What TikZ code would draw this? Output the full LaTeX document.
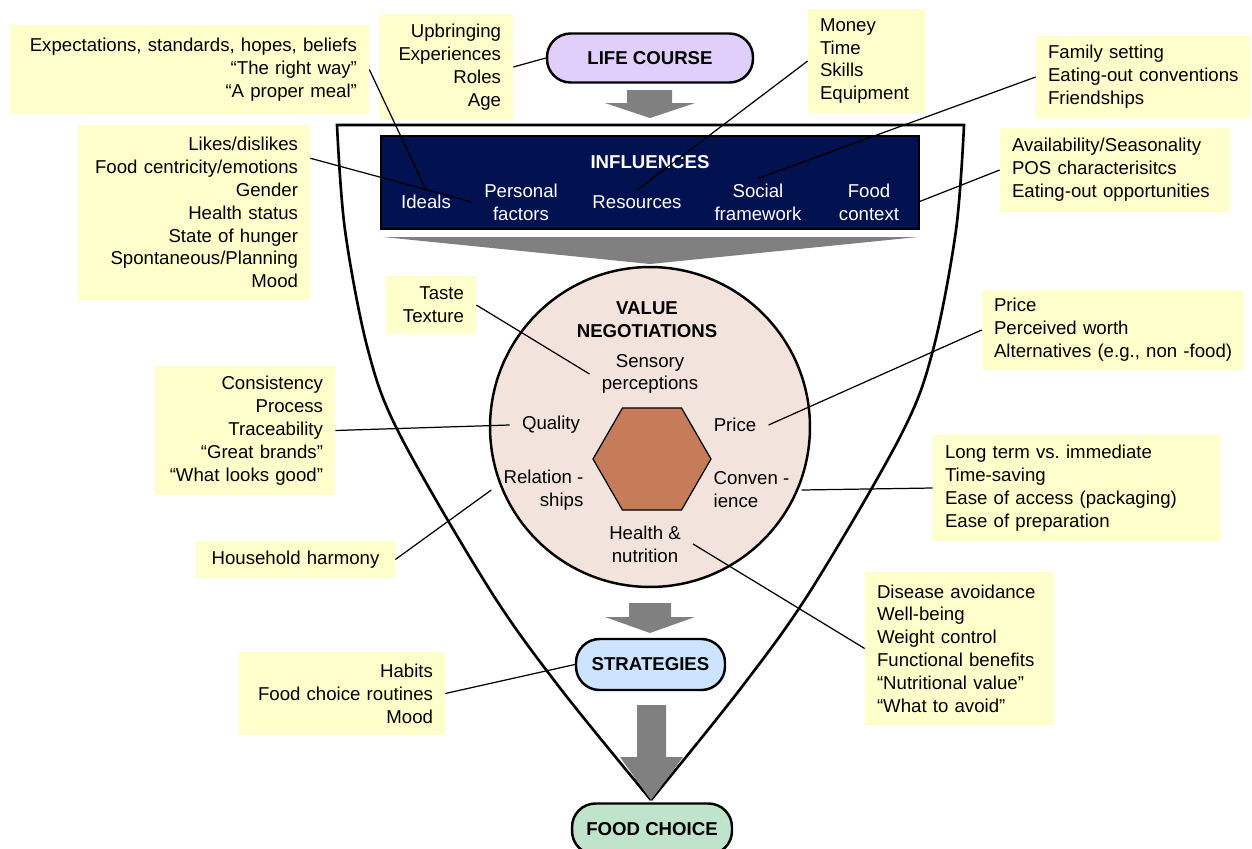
\documentclass[tikz,border=0pt]{standalone}
\usepackage{fontspec}
\setmainfont{Liberation Sans}
\usetikzlibrary{shapes.geometric}
\definecolor{NoteYellow}{HTML}{FFFFCC}
\definecolor{FlowGray}{HTML}{808080}
\definecolor{InfluenceNavy}{HTML}{021150}
\definecolor{LifeLilac}{HTML}{E1CFFB}
\definecolor{ValueBlush}{HTML}{F2E3DC}
\definecolor{CoreClay}{HTML}{C67B59}
\definecolor{StrategySky}{HTML}{CCE4FF}
\definecolor{ChoiceMint}{HTML}{BFE3CB}
\tikzset{
  every node/.style={font=\fontsize{10.6}{13}\selectfont, text=black},
  note/.style={fill=NoteYellow, inner xsep=0.24cm, inner ysep=0pt},
  stage/.style={draw=black, line width=1.4pt, rounded corners=0.47cm, minimum height=0.98cm,
    font=\fontsize{10.6}{13}\selectfont\bfseries},
  factor/.style={text=white, align=center, inner xsep=0.24cm, inner ysep=0.1cm},
  value/.style={inner xsep=0.24cm, inner ysep=0.1cm},
  link/.style={draw=black, line width=0.7pt},
  flow/.style={fill=FlowGray},
  funnel/.style={draw=black, line width=1.5pt, line join=miter},
}
\begin{document}
\begin{tikzpicture}[x=0.02cm, y=-0.02cm]
  \useasboundingbox (0,0) rectangle (1252,849);
  \clip (0,0) rectangle (1252,849);
  % Funnel outline
  \draw[funnel] plot[smooth, tension=0.55] coordinates {(651,800) (560,688) (490,590) (400,435) (368,350) (345,230) (337,125)}
    -- plot[smooth, tension=0.55] coordinates {(964,125) (956,230) (933,350) (901,435) (811,590) (741,688) (651,800)};
  % Gray flow arrows
  \fill[flow] (627,90) -- (672,90) -- (672,103) -- (695,103) -- (650,118) -- (605,103) -- (627,103) -- cycle;
  \fill[flow] (383,237) -- (918,237) -- (650,264) -- cycle;
  \fill[flow] (629,603) -- (671,603) -- (671,617) -- (695,617) -- (650,633) -- (605,617) -- (629,617) -- cycle;
  \fill[flow] (637,705) -- (666,705) -- (666,757) -- (683,757) -- (651,800) -- (620,757) -- (637,757) -- cycle;
  % Stages
  \node[stage, fill=LifeLilac, minimum width=4.12cm] (life course) at (650,58) {LIFE COURSE};
  \node[stage, fill=StrategySky, minimum width=2.98cm, minimum height=1.02cm] (strategies) at (650.5,664.5) {STRATEGIES};
  \node[stage, fill=ChoiceMint, minimum width=3.2cm, minimum height=1.02cm] (food choice) at (652,829) {FOOD CHOICE};
  % Influences box
  \node[draw=black, line width=1.2pt, fill=InfluenceNavy, minimum width=10.76cm, minimum height=1.86cm] (influences) at (650,182.5) {};
  \node[text=white, font=\fontsize{10.6}{13}\selectfont\bfseries] (influences title) at (650,162) {INFLUENCES};
  \node[factor] (ideals) at (426,202) {Ideals};
  \node[factor] (personal) at (521,202) {Personal\\factors};
  \node[factor] (resources) at (637,202) {Resources};
  \node[factor] (social) at (758,202) {Social\\framework};
  \node[factor] (context) at (869,202) {Food\\context};
  % Value negotiations
  \node[circle, draw=black, line width=1.4pt, fill=ValueBlush, minimum size=6.4cm, inner sep=0pt] (negotiations) at (650,427) {};
  \node[regular polygon, regular polygon sides=6, draw=black, line width=0.7pt, fill=CoreClay,
    minimum size=2.36cm, inner sep=0pt] (core) at (652,459) {};
  \node[align=center, font=\fontsize{10.6}{13}\selectfont\bfseries] (value title) at (647,320) {VALUE\\NEGOTIATIONS};
  \node[value, align=center] (sensory) at (650,374) {Sensory\\perceptions};
  \node[value] (quality) at (551,425) {Quality};
  \node[value] (price) at (735,425) {Price};
  \node[value, align=right] (relationships) at (543.5,490) {Relation -\\ships};
  \node[value, align=left] (convenience) at (751.5,490) {Conven -\\ience};
  \node[value, align=center] (health) at (645,544) {Health \&\\nutrition};
  % Notes
  \node[note, align=right, text width=6.7cm, minimum height=1.78cm] (ideals note) at (189.5,69.5)
    {Expectations, standards, hopes, beliefs\\“The right way”\\“A proper meal”};
  \node[note, align=right, text width=2.18cm, minimum height=2.12cm] (upbringing note) at (446.5,67)
    {Upbringing\\Experiences\\Roles\\Age};
  \node[note, align=left, text width=1.86cm, minimum height=2.08cm] (resources note) at (866.5,61)
    {Money\\Time\\Skills\\Equipment};
  \node[note, align=left, text width=3.8cm, minimum height=1.64cm] (social note) at (1143,77)
    {Family setting\\\mbox{Eating-out conventions}\\Friendships};
  \node[note, align=left, text width=4.12cm, minimum height=1.68cm] (context note) at (1115,170)
    {Availability/Seasonality\\POS characterisitcs\\Eating-out opportunities};
  \node[note, align=right, text width=4.16cm, minimum height=3.5cm] (personal note) at (194,212.5)
    {Likes/dislikes\\Food centricity/emotions\\Gender\\Health status\\State of hunger\\Spontaneous/Planning\\Mood};
  \node[note, align=right, text width=1.32cm, minimum height=1.16cm] (sensory note) at (431,305)
    {Taste\\Texture};
  \node[note, align=left, text width=4.74cm, minimum height=1.6cm] (price note) at (1112.5,330)
    {Price\\Perceived worth\\\mbox{Alternatives (e.g., non -food)}};
  \node[note, align=right, text width=3.12cm, minimum height=2.58cm] (quality note) at (245,430.5)
    {Consistency\\Process\\Traceability\\“Great brands”\\“What looks good”};
  \node[note, align=left, text width=5.26cm, minimum height=2.12cm] (convenience note) at (1076.5,488)
    {Long term vs.\ immediate\\Time-saving\\Ease of access (packaging)\\Ease of preparation};
  \node[note, align=center, text width=3.5cm, minimum height=0.74cm] (relationships note) at (295.5,559.5)
    {Household harmony};
  \node[note, align=left, text width=3.3cm, minimum height=3.06cm] (health note) at (959.5,648.5)
    {Disease avoidance\\Well-being\\Weight control\\Functional benefits\\“Nutritional value”\\“What to avoid”};
  \node[note, align=right, text width=3.64cm, minimum height=1.66cm] (strategies note) at (342,693.5)
    {Habits\\Food choice routines\\Mood};
  % Connectors
  \draw[link] (ideals note.east) -- (ideals.north);
  \draw[link] (upbringing note.east) -- (life course.west);
  \draw[link] (personal note.25) -- (personal.west);
  \draw[link] (resources note.west) -- (resources.north);
  \draw[link] (social note.west) -- (social.north);
  \draw[link] (context note.west) -- (influences.-4);
  \draw[link] (sensory note.east) -- (sensory.west);
  \draw[link] (price note.west) -- (price.east);
  \draw[link] (quality note.east) -- (quality.west);
  \draw[link] (convenience note.west) -- (convenience.east);
  \draw[link] (relationships note.east) -- (relationships.west);
  \draw[link] (health note.west) -- (health.east);
  \draw[link] (strategies note.east) -- (strategies.west);
\end{tikzpicture}
\end{document}
